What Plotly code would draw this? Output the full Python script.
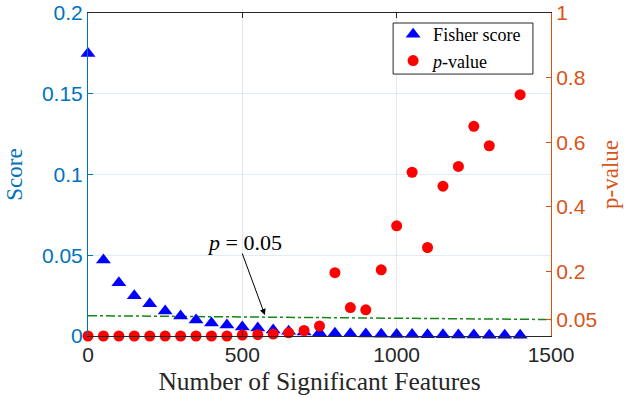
import plotly.graph_objects as go

# ---- data ----
features = [0, 50, 100, 150, 200, 250, 300, 350, 400, 450, 500, 550, 600, 650, 700,
            750, 800, 850, 900, 950, 1000, 1050, 1100, 1150, 1200, 1250, 1300, 1350, 1400]
fisher_score = [0.175, 0.047, 0.033, 0.025, 0.020, 0.0155, 0.0124, 0.0099, 0.008, 0.0068,
                0.0056, 0.0049, 0.0037, 0.003, 0.0024, 0.002, 0.0017, 0.0014, 0.0012, 0.0011,
                0.001, 0.0009, 0.0008, 0.0007, 0.0006, 0.0006, 0.0005, 0.0005, 0.0004]
p_value = [0.0, 0.0, 0.0, 0.0, 0.0, 0.0, 0.0, 0.0, 0.0, 0.0,
           0.003, 0.004, 0.006, 0.010, 0.017, 0.031, 0.196, 0.088, 0.081, 0.205,
           0.341, 0.507, 0.274, 0.464, 0.525, 0.649, 0.589, None, 0.747]
threshold_x = [0, 1500]
threshold_score = [0.0126, 0.0102]
annot_text_pos = [508, 0.058]
arrow_tail = [498, 0.052]
arrow_head = [573, 0.013]

x_ticks = [0, 500, 1000, 1500]
score_ticks = [0, 0.05, 0.1, 0.15, 0.2]
p_ticks = [0.05, 0.2, 0.4, 0.6, 0.8, 1]
p_ticktext = ["0.05", "0.2", "0.4", "0.6", "0.8", "1"]

BLUE_AX = "#0072BD"
ORANGE_AX = "#D95319"
DARK = "rgb(38,38,38)"
SERIF = "Liberation Serif"
SANS = "Liberation Sans"

fig = go.Figure()

fig.add_trace(go.Scatter(
    x=threshold_x, y=threshold_score, mode="lines",
    line=dict(color="rgb(20,135,20)", width=1.5, dash="dashdot"),
    showlegend=False, yaxis="y"))

fig.add_trace(go.Scatter(
    x=features, y=fisher_score, mode="markers", name="Fisher score",
    marker=dict(symbol="triangle-up", color="rgb(0,0,255)", size=13),
    cliponaxis=False, yaxis="y"))

fig.add_trace(go.Scatter(
    x=features, y=p_value, mode="markers", name="<i>p</i>-value",
    marker=dict(symbol="circle", color="rgb(255,0,0)", size=11),
    cliponaxis=False, yaxis="y2"))

fig.add_annotation(x=annot_text_pos[0], y=annot_text_pos[1], xref="x", yref="y",
                   text="<i>p</i> = 0.05", showarrow=False,
                   font=dict(family=SERIF, size=22, color="black"))
fig.add_annotation(x=arrow_head[0], y=arrow_head[1], xref="x", yref="y",
                   ax=arrow_tail[0], ay=arrow_tail[1], axref="x", ayref="y",
                   text="", showarrow=True, arrowhead=2, arrowsize=1.2,
                   arrowwidth=1, arrowcolor="black")

# legend frame (decoration)
fig.add_shape(type="rect", xref="paper", yref="paper",
              x0=0.659, x1=0.961, y0=0.811, y1=0.969,
              line=dict(color=DARK, width=1), fillcolor="white", layer="above")

fig.update_layout(
    width=629, height=402,
    margin=dict(l=88, r=78, t=13, b=66, autoexpand=False),
    paper_bgcolor="white", plot_bgcolor="white",
    font=dict(family=SANS, size=21, color=DARK),
    xaxis=dict(
        range=[0, 1500], tickvals=x_ticks, ticks="inside", ticklen=5,
        tickcolor=DARK, showline=True, linecolor=DARK, linewidth=1,
        mirror="ticks", showgrid=True, gridcolor="rgb(232,232,232)",
        zeroline=False, automargin=False,
        tickfont=dict(family=SANS, size=21, color=DARK),
        title=dict(text="Number of Significant Features",
                   font=dict(family=SERIF, size=25.5, color=DARK), standoff=6),
    ),
    yaxis=dict(
        range=[0, 0.2], tickvals=score_ticks, ticks="inside", ticklen=5,
        tickcolor=BLUE_AX, showline=True, linecolor=BLUE_AX, linewidth=1,
        showgrid=True, gridcolor="rgba(0,114,189,0.13)", zeroline=False,
        automargin=False,
        tickfont=dict(family=SANS, size=21, color=BLUE_AX),
        title=dict(text="Score", font=dict(family=SERIF, size=23, color=BLUE_AX),
                   standoff=12),
    ),
    yaxis2=dict(
        range=[0, 1], tickvals=p_ticks, ticktext=p_ticktext, overlaying="y",
        side="right", ticks="inside", ticklen=5, tickcolor=ORANGE_AX,
        showline=True, linecolor=ORANGE_AX, linewidth=1, showgrid=False,
        zeroline=False, automargin=False,
        tickfont=dict(family=SANS, size=21, color=ORANGE_AX),
        title=dict(text="p-value", font=dict(family=SERIF, size=23, color=ORANGE_AX),
                   standoff=5),
    ),
    legend=dict(
        x=0.659, y=0.9907, xanchor="left", yanchor="top",
        bgcolor="rgba(0,0,0,0)", borderwidth=0,
        font=dict(family=SERIF, size=18, color="black"),
        tracegroupgap=0, itemwidth=30,
    ),
)

fig.write_html("out.html")
